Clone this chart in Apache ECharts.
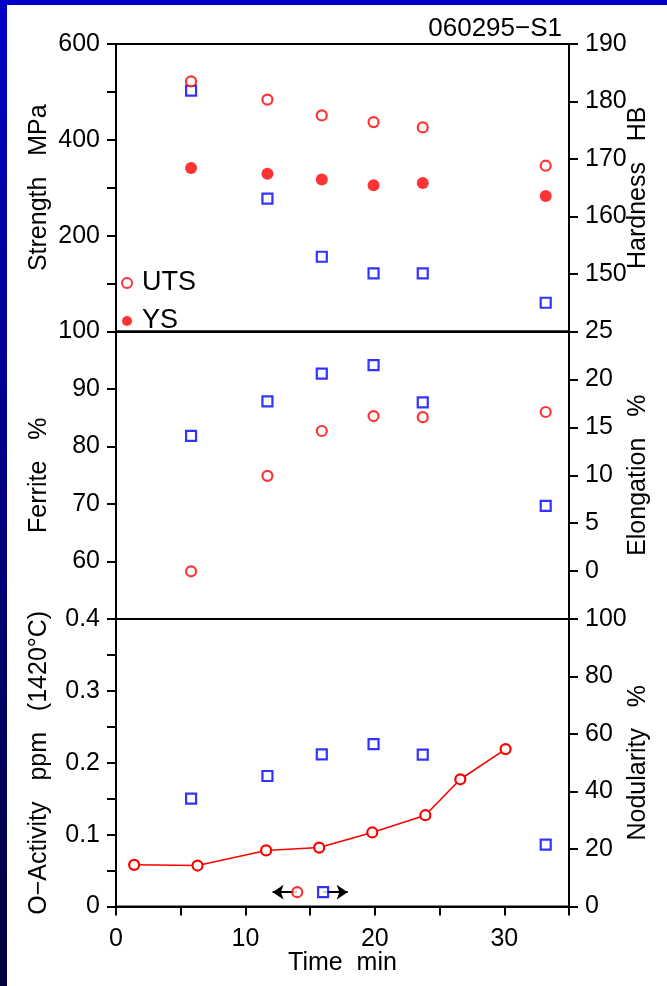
<!DOCTYPE html>
<html>
<head>
<meta charset="utf-8">
<script src="https://cdn.jsdelivr.net/npm/echarts@6/dist/echarts.min.js"></script>
<style>
  html, body { margin: 0; padding: 0; background: #fff; }
  #chart { width: 667px; height: 986px; }
</style>
</head>
<body>
<div id="chart"></div>
<script>
// Casting sample 060295-S1: properties versus holding time
const sampleTimes   = [5.8, 11.7, 15.9, 19.9, 23.7, 33.2];
const utsMPa        = [522, 484, 451, 437, 426, 346];
const ysMPa         = [341, 329, 317, 305, 310, 283];
const hardnessHB    = [181.9, 163.1, 153.0, 150.1, 150.1, 145.0];
const ferritePct    = [58.3, 74.9, 82.7, 85.3, 85.1, 86.0];
const elongationPct = [14.1, 17.7, 20.6, 21.5, 17.6, 6.8];
const nodularityPct = [37.5, 45.4, 52.9, 56.5, 52.8, 21.5];
const oxygenTimes   = [1.4, 6.3, 11.6, 15.7, 19.8, 23.9, 26.6, 30.1];
const oxygenPpm     = [0.058, 0.057, 0.078, 0.082, 0.103, 0.127, 0.177, 0.219];

// axis keys in the lower panel: circle -> left axis, square -> right axis
const keyCircle = [14.0, 0.02];
const keySquare = [16.0, 5];
const keyArrowTips = [12.1, 17.9];

// tick labels that are printed on each axis
const timeLabels       = [0, 10, 20, 30];
const strengthLabels   = [200, 400, 600];
const hardnessLabels   = [150, 160, 170, 180, 190];
const ferriteLabels    = [60, 70, 80, 90, 100];
const elongationLabels = [0, 5, 10, 15, 20, 25];
const oxygenLabels     = [0, 0.1, 0.2, 0.3, 0.4];
const nodularityLabels = [0, 20, 40, 60, 80, 100];

const FONT = '"Liberation Sans", Arial, Helvetica, sans-serif';
const INK = '#000';
const RED = '#ff0000';
const BLUE = '#0000ff';

const pairs = (xs, ys) => xs.map((x, i) => [x, ys[i]]);
const pick = (list, fmt) => v => {
  const hit = list.find(t => Math.abs(t - v) < 1e-9);
  return hit === undefined ? '' : (fmt ? fmt(hit) : String(hit));
};

const GL = 116, GW = 453, GH = 287.5;
const tops = [44, 331.5, 619];

const labelStyle = (margin) => ({ fontSize: 25, color: INK, fontFamily: FONT, margin });
const nameStyle = { fontSize: 25, color: INK, fontFamily: FONT };

function yAx(grid, pos, min, max, interval, labels, name, gap, fmt) {
  return {
    type: 'value', gridIndex: grid, position: pos, min, max, interval,
    name, nameLocation: 'middle', nameGap: gap, nameTextStyle: nameStyle,
    nameMoveOverlap: false,
    axisLine: { show: true, lineStyle: { color: INK, width: 2 } },
    axisTick: { show: true, inside: false, length: 9, lineStyle: { color: INK, width: 2 } },
    axisLabel: Object.assign(labelStyle(16), { formatter: pick(labels, fmt) }),
    splitLine: { show: false }
  };
}

function xAx(grid, withLabels) {
  return {
    type: 'value', gridIndex: grid, min: 0, max: 35, interval: 5,
    name: withLabels ? 'Time  min' : '', nameLocation: 'middle', nameGap: 44,
    nameTextStyle: nameStyle, nameMoveOverlap: false,
    axisLine: { show: true, onZero: false, lineStyle: { color: INK, width: 2 } },
    axisTick: { show: withLabels, length: 9, lineStyle: { color: INK, width: 2 } },
    axisLabel: Object.assign(labelStyle(20), { show: withLabels, formatter: pick(timeLabels) }),
    splitLine: { show: false }
  };
}

const openCircle = { color: '#fff', borderColor: RED, borderWidth: 2.2 };
const openSquare = { color: '#fff', borderColor: BLUE, borderWidth: 2.2 };

const option = {
  animation: false,
  backgroundColor: '#fff',
  textStyle: { fontFamily: FONT },
  graphic: [
    { type: 'rect', z: 10, shape: { x: 0, y: 0, width: 667, height: 5 }, style: { fill: '#0000c8' } },
    { type: 'rect', z: 10, shape: { x: 0, y: 0, width: 7, height: 986 },
      style: { fill: new echarts.graphic.LinearGradient(0, 0, 0, 1, [
        { offset: 0, color: '#0000c8' }, { offset: 1, color: '#02023c' }]) } },
    { type: 'text', z: 10, x: 562, y: 42,
      style: { text: '060295\u2212S1', font: '26px ' + FONT, fill: INK, textAlign: 'right', textVerticalAlign: 'bottom' } }
  ],
  legend: {
    data: ['UTS', 'YS'], orient: 'vertical', left: 116, top: 264,
    itemWidth: 20, itemHeight: 10, itemGap: 10,
    textStyle: { fontSize: 27, color: INK, fontFamily: FONT, lineHeight: 28 },
    selectedMode: false
  },
  grid: tops.map(t => ({
    left: GL, top: t, width: GW, height: GH, show: true,
    borderColor: INK, borderWidth: 2, backgroundColor: 'transparent'
  })),
  xAxis: [xAx(0, false), xAx(1, false), xAx(2, true)],
  yAxis: [
    yAx(0, 'left', 0, 600, 100, strengthLabels, 'Strength   MPa', 64),
    yAx(0, 'right', 140, 190, 10, hardnessLabels, 'Hardness   HB', 57),
    yAx(1, 'left', 50, 100, 10, ferriteLabels, 'Ferrite   %', 64),
    yAx(1, 'right', -5, 25, 5, elongationLabels, 'Elongation   %', 57),
    yAx(2, 'left', 0, 0.4, 0.05, oxygenLabels, 'O\u2212Activity   ppm   (1420\u00b0C)', 64,
        v => (v === 0 ? '0' : v.toFixed(1))),
    yAx(2, 'right', 0, 100, 20, nodularityLabels, 'Nodularity   %', 57)
  ],
  series: [
    { name: 'UTS', type: 'scatter', xAxisIndex: 0, yAxisIndex: 0, z: 4,
      symbol: 'circle', symbolSize: 10, itemStyle: openCircle, data: pairs(sampleTimes, utsMPa) },
    { name: 'YS', type: 'scatter', xAxisIndex: 0, yAxisIndex: 0, z: 4,
      symbol: 'circle', symbolSize: 12, itemStyle: { color: RED }, data: pairs(sampleTimes, ysMPa) },
    { name: 'Hardness', type: 'scatter', xAxisIndex: 0, yAxisIndex: 1, z: 3,
      symbol: 'rect', symbolSize: 10, itemStyle: openSquare, data: pairs(sampleTimes, hardnessHB) },
    { name: 'Ferrite', type: 'scatter', xAxisIndex: 1, yAxisIndex: 2, z: 4,
      symbol: 'circle', symbolSize: 10, itemStyle: openCircle, data: pairs(sampleTimes, ferritePct) },
    { name: 'Elongation', type: 'scatter', xAxisIndex: 1, yAxisIndex: 3, z: 3,
      symbol: 'rect', symbolSize: 10, itemStyle: openSquare, data: pairs(sampleTimes, elongationPct) },
    { name: 'O-Activity', type: 'line', xAxisIndex: 2, yAxisIndex: 4, z: 3,
      symbol: 'circle', symbolSize: 10, showAllSymbol: true,
      lineStyle: { color: RED, width: 1.6 }, itemStyle: openCircle,
      data: pairs(oxygenTimes, oxygenPpm),
      markLine: {
        silent: true, animation: false, symbol: ['none', 'arrow'], symbolSize: 11,
        lineStyle: { color: INK, width: 2, type: 'solid' }, label: { show: false },
        emphasis: { disabled: true },
        data: [
          [{ coord: keyCircle }, { coord: [keyArrowTips[0], keyCircle[1]] }],
          [{ coord: [keySquare[0], keyCircle[1]] }, { coord: [keyArrowTips[1], keyCircle[1]] }]
        ]
      } },
    { name: 'Nodularity', type: 'scatter', xAxisIndex: 2, yAxisIndex: 5, z: 3,
      symbol: 'rect', symbolSize: 10, itemStyle: openSquare, data: pairs(sampleTimes, nodularityPct) },
    { name: 'key-ppm', type: 'scatter', xAxisIndex: 2, yAxisIndex: 4, z: 6,
      symbol: 'circle', symbolSize: 10, itemStyle: openCircle, data: [keyCircle] },
    { name: 'key-pct', type: 'scatter', xAxisIndex: 2, yAxisIndex: 5, z: 6,
      symbol: 'rect', symbolSize: 10, itemStyle: openSquare, data: [keySquare] }
  ]
};

const chart = echarts.init(document.getElementById('chart'), null, { renderer: 'canvas' });
chart.setOption(option);
</script>
</body>
</html>
